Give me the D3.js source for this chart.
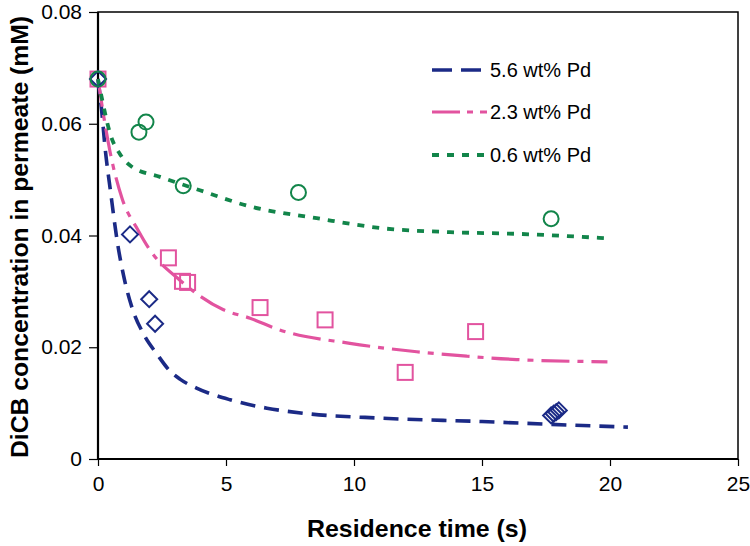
<!DOCTYPE html>
<html><head><meta charset="utf-8">
<script src="https://cdn.jsdelivr.net/npm/d3@7"></script>
<style>body{margin:0;background:#fff;} svg{display:block;font-family:"Liberation Sans",Arial,sans-serif;}</style>
</head><body>
<svg id="c" width="750" height="546"></svg>
<script>
const xTicks = [0,5,10,15,20,25];
const yTicks = [0,0.02,0.04,0.06,0.08];
const yTickLabels = ["0","0.02","0.04","0.06","0.08"];
const seriesNames = ["5.6 wt% Pd","2.3 wt% Pd","0.6 wt% Pd"];
const colors = ["#1b2a86","#e2539f","#12854a"];

// fitted curves
const fit56 = [[0,0.068],[0.14,0.0625],[0.27,0.056],[0.5,0.0475],[0.75,0.039],[1.0,0.0328],[1.3,0.0275],[1.8,0.0222],[2.3,0.0188],[2.8,0.0158],[3.2,0.0143],[3.85,0.0127],[5.16,0.0106],[6.6,0.0091],[8,0.0082],[11.1,0.0073],[15,0.0067],[17.7,0.0062],[20.7,0.0057]];
const fit23 = [[0,0.068],[0.2,0.062],[0.47,0.055],[0.95,0.0465],[1.56,0.041],[2.03,0.0374],[3.2,0.032],[4.9,0.0267],[5.94,0.0252],[7.1,0.0231],[9.84,0.0207],[12.45,0.0192],[14.4,0.0184],[16.35,0.0178],[19.9,0.0174]];
const fit06 = [[0,0.068],[0.14,0.0648],[0.47,0.0583],[0.93,0.0541],[1.32,0.0523],[2.42,0.0505],[3.98,0.0481],[5.94,0.0452],[8.54,0.0431],[11.1,0.0413],[13.75,0.0406],[16.35,0.0403],[19.9,0.0395]];

// measured points
const pts56 = [[0,0.068],[1.25,0.0402],[2.0,0.0286],[2.23,0.0242],[17.7,0.0078],[17.8,0.0081],[17.9,0.0084],[18.0,0.0087]];
const pts23 = [[0,0.068],[2.75,0.036],[3.3,0.0318],[3.5,0.0316],[6.33,0.0271],[8.87,0.0249],[12.0,0.0155],[14.75,0.0228]];
const pts06 = [[0,0.068],[1.6,0.0585],[1.875,0.0603],[3.33,0.0489],[7.83,0.0477],[17.7,0.043]];

const svg = d3.select("#c");
const L=98, R=738, T=12, B=459;
const x = d3.scaleLinear().domain([0,25]).range([L,R]);
const y = d3.scaleLinear().domain([0,0.08]).range([B,T]);

// frame
svg.append("rect").attr("x",L).attr("y",T).attr("width",R-L).attr("height",B-T)
  .attr("fill","none").attr("stroke","#000").attr("stroke-width",1.5);

const xa = svg.append("g").attr("transform",`translate(0,${B})`)
  .call(d3.axisBottom(x).tickValues(xTicks).tickSize(7).tickPadding(10).tickFormat(d3.format("d")));
const ya = svg.append("g").attr("transform",`translate(${L},0)`)
  .call(d3.axisLeft(y).tickValues(yTicks).tickSize(9).tickPadding(7).tickFormat((d,i)=>yTickLabels[i]));
[xa,ya].forEach(a=>{
  a.select(".domain").attr("stroke","#000").attr("stroke-width",2.2);
  a.selectAll(".tick line").attr("stroke","#000").attr("stroke-width",1.2);
  a.selectAll(".tick text").attr("fill","#000").style("font-size","21px").style("font-family","'Liberation Sans',Arial,sans-serif");
});
xa.select(".domain").attr("d",`M${L},0H${R}`);
ya.select(".domain").attr("d",`M0,${T}V${B}`);

// titles
svg.append("text").attr("x",(L+R)/2-1).attr("y",537).attr("text-anchor","middle")
  .style("font-size","24px").style("font-weight","bold")
  .attr("textLength",220).attr("lengthAdjust","spacingAndGlyphs").text("Residence time (s)");
svg.append("text").attr("transform",`translate(28,237) rotate(-90)`).attr("text-anchor","middle")
  .style("font-size","23px").style("font-weight","bold")
  .attr("textLength",442).attr("lengthAdjust","spacingAndGlyphs").text("DiCB concentration in permeate (mM)");

const line = d3.line().x(d=>x(d[0])).y(d=>y(d[1])).curve(d3.curveMonotoneX);
const dashes = ["15,9","28,8,6,8","7,8"];
const widths = [3.6,3.2,3.8];
[fit56,fit23,fit06].forEach((f,i)=>{
  svg.append("path").attr("d",line(f)).attr("fill","none").attr("stroke",colors[i])
    .attr("stroke-width",widths[i]).attr("stroke-dasharray",dashes[i]);
});

// markers
svg.append("g").selectAll("rect").data(pts23).join("rect")
  .attr("x",d=>x(d[0])-7.5).attr("y",d=>y(d[1])-7.5).attr("width",15).attr("height",15)
  .attr("fill","none").attr("stroke",colors[1]).attr("stroke-width",2);
svg.append("g").selectAll("path").data(pts56).join("path")
  .attr("d",d=>{const cx=x(d[0]),cy=y(d[1]),r=8;return `M${cx},${cy-r}L${cx+r},${cy}L${cx},${cy+r}L${cx-r},${cy}Z`;})
  .attr("fill","none").attr("stroke",colors[0]).attr("stroke-width",2);
svg.append("g").selectAll("circle").data(pts06).join("circle")
  .attr("cx",d=>x(d[0])).attr("cy",d=>y(d[1])).attr("r",7.5)
  .attr("fill","none").attr("stroke",colors[2]).attr("stroke-width",2);

// legend
const legY=[70,112,155];
seriesNames.forEach((n,i)=>{
  svg.append("line").attr("x1",432).attr("x2",487).attr("y1",legY[i]).attr("y2",legY[i])
    .attr("stroke",colors[i]).attr("stroke-width",widths[i])
    .attr("stroke-dasharray", i===0?"20,9":i===1?"28,7,6,7":"7,8");
  svg.append("text").attr("x",490).attr("y",legY[i]+7).style("font-size","20px").attr("fill","#000").text(n);
});
</script>
</body></html>
